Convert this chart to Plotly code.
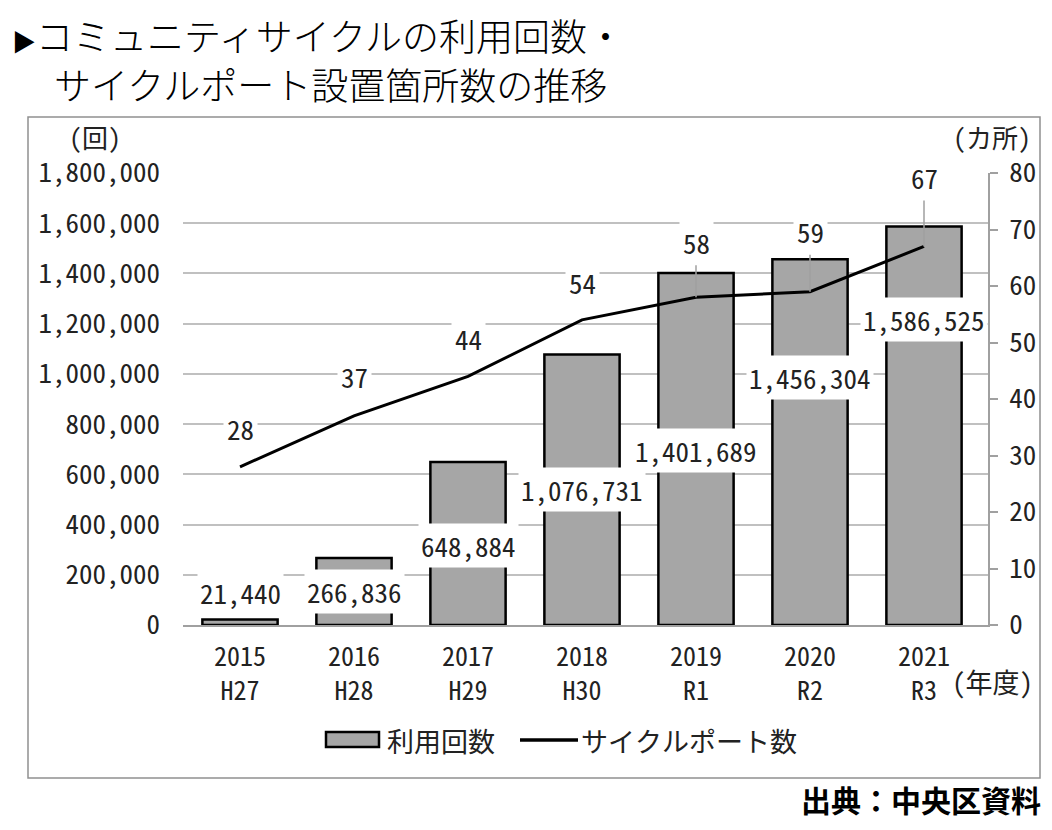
import plotly.graph_objects as go

# --- data ---
years = ["2015", "2016", "2017", "2018", "2019", "2020", "2021"]
eras = ["H27", "H28", "H29", "H30", "R1", "R2", "R3"]
uses = [21440, 266836, 648884, 1076731, 1401689, 1456304, 1586525]
ports = [28, 37, 44, 54, 58, 59, 67]

left_ticks = [0, 200000, 400000, 600000, 800000, 1000000, 1200000, 1400000, 1600000, 1800000]
right_ticks = [0, 10, 20, 30, 40, 50, 60, 70, 80]

# label placement (pixel shifts)
bar_label_shift = [27, -34, -83, -135, -177, -118, -93]
port_label_shift = [-38, -39, -38, -37, -55, -60, -69]
port_leader = [False, False, False, False, True, True, True]

# page body has an 8px margin, so work in page pixels and subtract it
OFF = 8
W, H = 1052 - 2 * OFF, 830 - 2 * OFF
L, T = 183 - OFF, 173 - OFF
R = W - (988 - OFF)
B = H - (625 - OFF)
PW, PH = W - L - R, H - T - B

MONO = "Noto Sans Mono CJK JP, Noto Sans CJK JP, DejaVu Sans Mono"
SANS = "Noto Sans CJK JP, Noto Sans"
TXT = "#222222"
GRID = "#c0c0c0"
AXIS = "#a0a0a0"
BAR = "#a6a6a6"


def px_x(px):
    return (px - OFF - L) / PW


def px_y(py):
    return (H - B - (py - OFF)) / PH


def note(px, py, text, size, family=MONO, xanchor="center", **kw):
    return dict(x=px_x(px), y=px_y(py), xref="paper", yref="paper", text=text,
                xanchor=xanchor, yanchor="middle", showarrow=False, borderpad=0,
                font=dict(family=family, size=size, color=kw.pop("color", TXT), **kw))


cats = [f"{y}<br>{e}" for y, e in zip(years, eras)]

fig = go.Figure()

fig.add_trace(go.Bar(
    x=cats, y=uses, name="利用回数",
    marker=dict(color=BAR, line=dict(color="#000000", width=2.5)),
    yaxis="y",
))

fig.add_trace(go.Scatter(
    x=cats, y=ports, name="サイクルポート数",
    mode="lines", line=dict(color="#000000", width=3),
    yaxis="y2",
))

ann = []

# bar value labels
for c, v, s in zip(cats, uses, bar_label_shift):
    ann.append(dict(
        x=c, y=v, xref="x", yref="y", text=f"{v:,}", showarrow=False,
        yshift=s, bgcolor="#ffffff", borderpad=2,
        font=dict(family=MONO, size=27, color=TXT),
    ))

# port labels
for c, v, s, lead in zip(cats, ports, port_label_shift, port_leader):
    ann.append(dict(
        x=c, y=v, xref="x", yref="y2", text=str(v), showarrow=True,
        ax=0, ay=s, arrowhead=0, arrowwidth=1.5, standoff=0,
        arrowcolor=AXIS if lead else "rgba(0,0,0,0)",
        bgcolor="#ffffff", borderpad=3,
        font=dict(family=MONO, size=27, color=TXT),
    ))

# axis unit labels
ann.append(note(95, 136, "(回)", 26))
ann.append(note(992, 136, "(カ所)", 26))
ann.append(note(993, 681, "(年度)", 27))

# legend (drawn by hand: wide bar swatch like the original)
ann.append(note(386, 740, "利用回数", 27, xanchor="left"))
ann.append(note(580, 740, "サイクルポート数", 27, xanchor="left"))

# title and source
ann.append(note(11, 35, "<span style='font-size:24px'>▶</span>コミュニティサイクルの利用回数・",
                37, family=SANS, xanchor="left", color="#000000", weight=300))
ann.append(note(53, 84, "サイクルポート設置箇所数の推移", 37, family=SANS,
                xanchor="left", color="#000000", weight=300))
ann.append(note(1042, 799, "出典：中央区資料", 30, family=SANS,
                xanchor="right", color="#000000", weight="bold"))

shapes = [
    dict(type="rect", xref="paper", yref="paper",
         x0=px_x(28), x1=px_x(1040), y0=px_y(778), y1=px_y(117),
         line=dict(color="#909090", width=1.5), layer="below"),
    dict(type="rect", xref="paper", yref="paper",
         x0=px_x(326), x1=px_x(379), y0=px_y(747), y1=px_y(732),
         fillcolor=BAR, line=dict(color="#000000", width=2.5)),
    dict(type="line", xref="paper", yref="paper",
         x0=px_x(520), x1=px_x(578), y0=px_y(740), y1=px_y(740),
         line=dict(color="#000000", width=3.5)),
]

fig.update_layout(
    width=W, height=H,
    margin=dict(l=L, r=R, t=T, b=B, autoexpand=False),
    paper_bgcolor="#ffffff", plot_bgcolor="#ffffff",
    bargap=0.34,
    showlegend=False,
    xaxis=dict(
        type="category", showgrid=False, showline=True, linecolor=AXIS, linewidth=1.5,
        ticks="", tickfont=dict(family=MONO, size=26, color=TXT), ticklabelstandoff=8,
    ),
    yaxis=dict(
        range=[0, 1800000], tickvals=left_ticks,
        ticktext=[f"{v:,}" for v in left_ticks],
        showgrid=True, gridcolor=GRID, gridwidth=1.5, zeroline=False, showline=False,
        ticks="", tickfont=dict(family=MONO, size=27, color=TXT), ticklabelstandoff=22,
    ),
    yaxis2=dict(
        range=[0, 80], tickvals=right_ticks, overlaying="y", side="right",
        showgrid=False, zeroline=False, showline=True, linecolor=AXIS, linewidth=1.5,
        ticks="outside", ticklen=8, tickcolor=AXIS, tickwidth=1.5,
        tickfont=dict(family=MONO, size=27, color=TXT), ticklabelstandoff=6,
    ),
    annotations=ann,
    shapes=shapes,
)

fig.write_html("out.html")
